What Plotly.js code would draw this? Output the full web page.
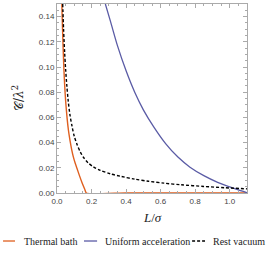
<!DOCTYPE html>
<html>
<head>
<meta charset="utf-8">
<script src="https://cdn.plot.ly/plotly-3.0.1.min.js"></script>
<style>html,body{margin:0;padding:0;background:#fff;}#chart{width:266px;height:254px;}</style>
</head>
<body>
<div id="chart"></div>
<script>
// Thermal bath
const thermalL = [0.028, 0.030, 0.032, 0.036, 0.040, 0.045, 0.050, 0.058, 0.066, 0.075, 0.085, 0.095, 0.105, 0.116, 0.130, 0.145, 0.160, 0.170, 0.40, 0.70, 1.10];
const thermalC = [0.150, 0.140, 0.130, 0.113, 0.098, 0.084, 0.073, 0.060, 0.050, 0.042, 0.0345, 0.0285, 0.0238, 0.0194, 0.0138, 0.0082, 0.0032, 0.000, 0.000, 0.000, 0.000];
// Uniform acceleration
const uniformL = [0.280, 0.310, 0.350, 0.400, 0.450, 0.500, 0.560, 0.630, 0.700, 0.770, 0.850, 0.930, 1.000, 1.050, 1.100];
const uniformC = [0.150, 0.136, 0.117, 0.097, 0.080, 0.066, 0.0525, 0.039, 0.0285, 0.0205, 0.0138, 0.0085, 0.0048, 0.0024, 0.0002];
// Rest vacuum
const restL = [0.033, 0.038, 0.044, 0.050, 0.057, 0.065, 0.075, 0.087, 0.100, 0.116, 0.135, 0.155, 0.180, 0.210, 0.250, 0.310, 0.370, 0.450, 0.530, 0.620, 0.720, 0.850, 0.970, 1.100];
const restC = [0.150, 0.130, 0.112, 0.098, 0.085, 0.073, 0.062, 0.053, 0.045, 0.0385, 0.0325, 0.028, 0.024, 0.0208, 0.0180, 0.0152, 0.0132, 0.0110, 0.0093, 0.0078, 0.0065, 0.0052, 0.0042, 0.0033];

const seriesNames = ["Thermal bath", "Uniform acceleration", "Rest vacuum"];
const seriesColors = ["#DF5F1F", "#5A5BA5", "#000000"];
const xTicks = [0.0, 0.2, 0.4, 0.6, 0.8, 1.0];
const xTickText = ["0.0", "0.2", "0.4", "0.6", "0.8", "1.0"];
const yTicks = [0.00, 0.02, 0.04, 0.06, 0.08, 0.10, 0.12, 0.14];
const yTickText = ["0.00", "0.02", "0.04", "0.06", "0.08", "0.10", "0.12", "0.14"];
const xTitle = "<i>L</i>/<i>σ</i>";
const yTitle = "𝒞/<i>λ</i><sup>2</sup>";

const traces = [
  {x: thermalL, y: thermalC, name: seriesNames[0], mode: "lines", line: {color: seriesColors[0], width: 1.4, shape: "spline", smoothing: 0.6}, cliponaxis: false},
  {x: uniformL, y: uniformC, name: seriesNames[1], mode: "lines", line: {color: seriesColors[1], width: 1.3, shape: "spline", smoothing: 0.8}},
  {x: restL, y: restC, name: seriesNames[2], mode: "lines", line: {color: seriesColors[2], width: 1.4, dash: "3px,2px", shape: "spline", smoothing: 0.8}}
];

// hand-built legend (short symbols like the reference)
const legendSym = [[-0.284, -0.221], [0.142, 0.211], [0.711, 0.779]];
const legendTextX = [-0.184, 0.242, 0.811];
const legendY = -0.254;
const shapes = [];
const annotations = [];
for (let i = 0; i < 3; i++) {
  shapes.push({type: "line", xref: "paper", yref: "paper", x0: legendSym[i][0], x1: legendSym[i][1], y0: legendY, y1: legendY,
    line: {color: seriesColors[i], width: 1.3, dash: i === 2 ? "3px,2px" : "solid"}});
  annotations.push({xref: "paper", yref: "paper", x: legendTextX[i], y: legendY, xanchor: "left", yanchor: "middle",
    text: seriesNames[i], showarrow: false, font: {family: "Liberation Serif", size: 10, color: "#222222"}});
}
annotations.push({xref: "paper", yref: "paper", x: 0.5, y: -0.132, xanchor: "center", yanchor: "middle",
  text: xTitle, showarrow: false, font: {family: "Liberation Serif", size: 13, color: "#222222"}});
annotations.push({xref: "paper", yref: "paper", x: -0.205, y: 0.503, xanchor: "center", yanchor: "middle", textangle: -90,
  text: yTitle, showarrow: false, font: {family: "DejaVu Serif", size: 12, color: "#222222"}});

const axisCommon = {
  showgrid: false, zeroline: false, showline: true, linecolor: "#aaaaaa", linewidth: 1,
  mirror: "ticks", ticks: "inside", ticklen: 4, tickcolor: "#aaaaaa", tickwidth: 1,
  tickfont: {family: "Liberation Sans", size: 8, color: "#444444"}
};

const layout = {
  width: 266, height: 254,
  margin: {l: 57, r: 19, t: 4, b: 61},
  paper_bgcolor: "#ffffff", plot_bgcolor: "#ffffff",
  showlegend: false,
  shapes: shapes,
  annotations: annotations,
  xaxis: Object.assign({}, axisCommon, {
    range: [0, 1.1], tickvals: xTicks, ticktext: xTickText,
    minor: {dtick: 0.05, ticks: "inside", ticklen: 2, tickcolor: "#aaaaaa"}
  }),
  yaxis: Object.assign({}, axisCommon, {
    range: [0, 0.15], tickvals: yTicks, ticktext: yTickText,
    minor: {dtick: 0.005, ticks: "inside", ticklen: 2, tickcolor: "#aaaaaa"}
  })
};

Plotly.newPlot("chart", traces, layout, {displayModeBar: false, staticPlot: true});
</script>
</body>
</html>
